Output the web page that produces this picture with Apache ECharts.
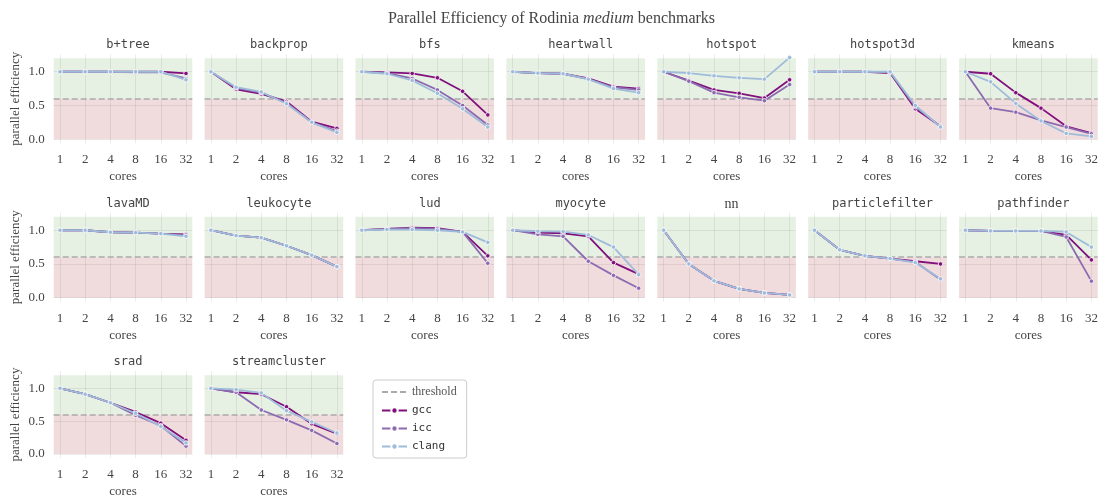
<!DOCTYPE html>
<html>
<head>
<meta charset="utf-8">
<script src="https://cdn.jsdelivr.net/npm/echarts@6/dist/echarts.min.js"></script>
<style>
  html, body { margin: 0; padding: 0; background: #fff; }
  #chart { width: 1103px; height: 499px; }
</style>
</head>
<body>
<div id="chart"></div>
<script>
// cores on the x axis (plotted as evenly spaced categories)
const cores = ['1', '2', '4', '8', '16', '32']
const benchmarks = ['b+tree', 'backprop', 'bfs', 'heartwall', 'hotspot', 'hotspot3d', 'kmeans',
  'lavaMD', 'leukocyte', 'lud', 'myocyte', 'nn', 'particlefilter', 'pathfinder',
  'srad', 'streamcluster']
const compilers = ['gcc', 'icc', 'clang']
const threshold = 0.6
const yTicks = [0, 0.5, 1.0]

// parallel efficiency per benchmark, values for 1,2,4,8,16,32 cores
const gcc = {
  'b+tree':        [1.0, 1.0, 1.0, 1.0, 1.0, 0.975],
  'backprop':      [1.0, 0.74, 0.67, 0.56, 0.26, 0.16],
  'bfs':           [1.0, 0.99, 0.975, 0.91, 0.71, 0.36],
  'heartwall':     [1.0, 0.98, 0.97, 0.9, 0.78, 0.75],
  'hotspot':       [1.0, 0.87, 0.73, 0.68, 0.61, 0.88],
  'hotspot3d':     [1.0, 1.0, 1.0, 0.98, 0.45, 0.19],
  'kmeans':        [1.0, 0.97, 0.69, 0.46, 0.19, 0.09],
  'lavaMD':        [1.0, 1.0, 0.97, 0.965, 0.95, 0.94],
  'leukocyte':     [1.0, 0.92, 0.89, 0.77, 0.63, 0.46],
  'lud':           [1.0, 1.02, 1.04, 1.03, 0.975, 0.62],
  'myocyte':       [1.0, 0.965, 0.955, 0.91, 0.52, 0.35],
  'nn':            [1.0, 0.5, 0.25, 0.13, 0.07, 0.04],
  'particlefilter':[1.0, 0.71, 0.62, 0.58, 0.54, 0.5],
  'pathfinder':    [1.0, 0.99, 0.99, 0.99, 0.93, 0.56],
  'srad':          [1.0, 0.91, 0.78, 0.64, 0.47, 0.21],
  'streamcluster': [1.0, 0.94, 0.91, 0.72, 0.46, 0.31]
}
const icc = {
  'b+tree':        [1.0, 1.0, 1.0, 0.99, 0.99, 0.9],
  'backprop':      [1.0, 0.76, 0.69, 0.54, 0.25, 0.12],
  'bfs':           [1.0, 0.98, 0.9, 0.73, 0.5, 0.21],
  'heartwall':     [1.0, 0.98, 0.97, 0.89, 0.77, 0.73],
  'hotspot':       [1.0, 0.86, 0.69, 0.62, 0.57, 0.81],
  'hotspot3d':     [1.0, 1.0, 1.0, 0.99, 0.48, 0.19],
  'kmeans':        [1.0, 0.46, 0.4, 0.28, 0.18, 0.08],
  'lavaMD':        [1.0, 1.0, 0.97, 0.965, 0.95, 0.93],
  'leukocyte':     [1.0, 0.92, 0.89, 0.77, 0.63, 0.46],
  'lud':           [1.0, 1.02, 1.03, 1.02, 0.975, 0.51],
  'myocyte':       [1.0, 0.94, 0.91, 0.54, 0.33, 0.14],
  'nn':            [1.0, 0.5, 0.25, 0.13, 0.07, 0.04],
  'particlefilter':[1.0, 0.71, 0.62, 0.58, 0.53, 0.27],
  'pathfinder':    [1.0, 0.99, 0.99, 0.99, 0.9, 0.245],
  'srad':          [1.0, 0.91, 0.78, 0.59, 0.43, 0.12],
  'streamcluster': [1.0, 0.94, 0.67, 0.52, 0.36, 0.16]
}
const clang = {
  'b+tree':        [1.0, 1.0, 1.0, 1.0, 1.0, 0.88],
  'backprop':      [1.0, 0.77, 0.7, 0.525, 0.25, 0.1],
  'bfs':           [1.0, 0.97, 0.87, 0.68, 0.45, 0.18],
  'heartwall':     [1.0, 0.98, 0.97, 0.89, 0.75, 0.69],
  'hotspot':       [1.0, 0.98, 0.94, 0.91, 0.89, 1.21],
  'hotspot3d':     [1.0, 1.0, 1.0, 1.0, 0.5, 0.18],
  'kmeans':        [1.0, 0.85, 0.53, 0.27, 0.085, 0.04],
  'lavaMD':        [1.0, 1.0, 0.97, 0.965, 0.95, 0.91],
  'leukocyte':     [1.0, 0.92, 0.89, 0.77, 0.63, 0.46],
  'lud':           [1.0, 1.01, 1.01, 1.0, 0.975, 0.82],
  'myocyte':       [1.0, 0.985, 0.98, 0.93, 0.75, 0.34],
  'nn':            [1.0, 0.5, 0.25, 0.13, 0.07, 0.04],
  'particlefilter':[1.0, 0.71, 0.62, 0.58, 0.52, 0.28],
  'pathfinder':    [1.0, 0.99, 0.99, 0.99, 0.975, 0.75],
  'srad':          [1.0, 0.91, 0.78, 0.62, 0.42, 0.17],
  'streamcluster': [1.0, 0.98, 0.93, 0.66, 0.49, 0.32]
}
const compilerData = { gcc, icc, clang }
const colors = { gcc: '#810f7c', icc: '#8c6bb1', clang: '#9ebcda' }

const serif = '"Liberation Serif", "DejaVu Serif", serif'
const mono = '"DejaVu Sans Mono", monospace'
const textColor = '#444'
const gridLineColor = 'rgba(0,0,0,0.07)'

const ncols = 7
const grids = [], xAxes = [], yAxes = [], series = [], titles = []

benchmarks.forEach((name, i) => {
  const row = Math.floor(i / ncols)
  const col = i % ncols
  const left = 53.7 + col * 150.9
  const top = 54.2 + row * 158.5
  grids.push({ left, top, width: 138.6, height: 89 })

  titles.push({
    text: name,
    left: left + 69.3,
    top: top - 20,
    textAlign: 'center',
    textStyle: {
      fontFamily: name === 'nn' ? serif : mono,
      fontSize: name === 'nn' ? 14 : 12,
      fontWeight: 'normal',
      color: '#444'
    }
  })

  xAxes.push({
    gridIndex: i,
    type: 'value',
    min: -0.25,
    max: 5.25,
    name: 'cores',
    nameLocation: 'middle',
    nameGap: 27,
    nameTextStyle: { fontFamily: serif, fontSize: 13, color: textColor },
    axisLine: { show: false },
    axisTick: { show: false },
    splitLine: { show: false },
    axisLabel: {
      customValues: cores.map((_, k) => k),
      formatter: v => cores[Math.round(v)],
      fontFamily: serif,
      fontSize: 13,
      color: textColor,
      margin: 10
    }
  })

  yAxes.push({
    gridIndex: i,
    type: 'value',
    min: -0.06,
    max: 1.26,
    name: col === 0 ? 'parallel efficiency' : '',
    nameLocation: 'middle',
    nameRotate: 90,
    nameGap: 32,
    nameTextStyle: { fontFamily: serif, fontSize: 13, color: textColor },
    axisLine: { show: false },
    axisTick: { show: false },
    splitLine: { show: false },
    axisLabel: {
      show: col === 0,
      customValues: yTicks,
      formatter: v => v.toFixed(1),
      fontFamily: serif,
      fontSize: 13,
      color: textColor,
      margin: 9
    }
  })

  // shaded good / bad regions
  series.push({
    type: 'line',
    xAxisIndex: i,
    yAxisIndex: i,
    data: [],
    silent: true,
    z: 1,
    markArea: {
      silent: true,
      data: [
        [{ yAxis: threshold, itemStyle: { color: '#e6f1e4' } }, { yAxis: 1.2 }],
        [{ yAxis: 0, itemStyle: { color: '#f1dcdd' } }, { yAxis: threshold }]
      ]
    }
  })

  // grid lines
  series.push({
    type: 'line',
    xAxisIndex: i,
    yAxisIndex: i,
    data: [],
    silent: true,
    z: 2,
    markLine: {
      silent: true,
      symbol: ['none', 'none'],
      label: { show: false },
      lineStyle: { color: gridLineColor, type: 'solid', width: 1 },
      data: cores.map((_, k) => ({ xAxis: k })).concat(yTicks.map(v => ({ yAxis: v })))
    }
  })

  // threshold
  series.push({
    name: 'threshold',
    type: 'line',
    xAxisIndex: i,
    yAxisIndex: i,
    data: [],
    symbol: 'none',
    z: 3,
    itemStyle: { color: '#aaaaaa' },
    lineStyle: { color: '#aaaaaa', type: [6, 3], width: 1.5 },
    markLine: {
      silent: true,
      symbol: ['none', 'none'],
      label: { show: false },
      lineStyle: { color: '#aaaaaa', type: [6, 3], width: 1.5 },
      data: [{ yAxis: threshold }]
    }
  })

  compilers.forEach((c, k) => {
    series.push({
      name: c,
      type: 'line',
      xAxisIndex: i,
      yAxisIndex: i,
      z: 5 + k,
      data: compilerData[c][name].map((v, idx) => [idx, v]),
      symbol: 'circle',
      symbolSize: 4.5,
      showSymbol: true,
      itemStyle: { color: colors[c], borderColor: '#fff', borderWidth: 0.8 },
      lineStyle: { color: colors[c], width: 1.8 },
      emphasis: { disabled: true }
    })
  })
})

titles.unshift({
  text: '{a|Parallel Efficiency of Rodinia }{b|medium}{a| benchmarks}',
  left: 'center',
  top: 6,
  textStyle: {
    fontWeight: 'normal',
    rich: {
      a: { fontFamily: serif, fontSize: 16, color: '#444', fontWeight: 'normal' },
      b: { fontFamily: serif, fontSize: 16, color: '#444', fontWeight: 'normal', fontStyle: 'italic' }
    }
  }
})

const chart = echarts.init(document.getElementById('chart'))
chart.setOption({
  animation: false,
  backgroundColor: '#fff',
  title: titles,
  grid: grids,
  xAxis: xAxes,
  yAxis: yAxes,
  legend: {
    orient: 'vertical',
    left: 373,
    top: 380,
    itemWidth: 25,
    itemHeight: 8,
    itemGap: 7,
    padding: [6, 10, 6, 8],
    borderColor: '#cccccc',
    borderWidth: 1,
    borderRadius: 3,
    textStyle: { fontFamily: mono, fontSize: 11, color: '#333' },
    data: [
      { name: 'threshold', itemStyle: { opacity: 0 }, textStyle: { fontFamily: serif, fontSize: 12, color: '#555' } },
      { name: 'gcc' },
      { name: 'icc' },
      { name: 'clang' }
    ]
  },
  series
})
</script>
</body>
</html>
